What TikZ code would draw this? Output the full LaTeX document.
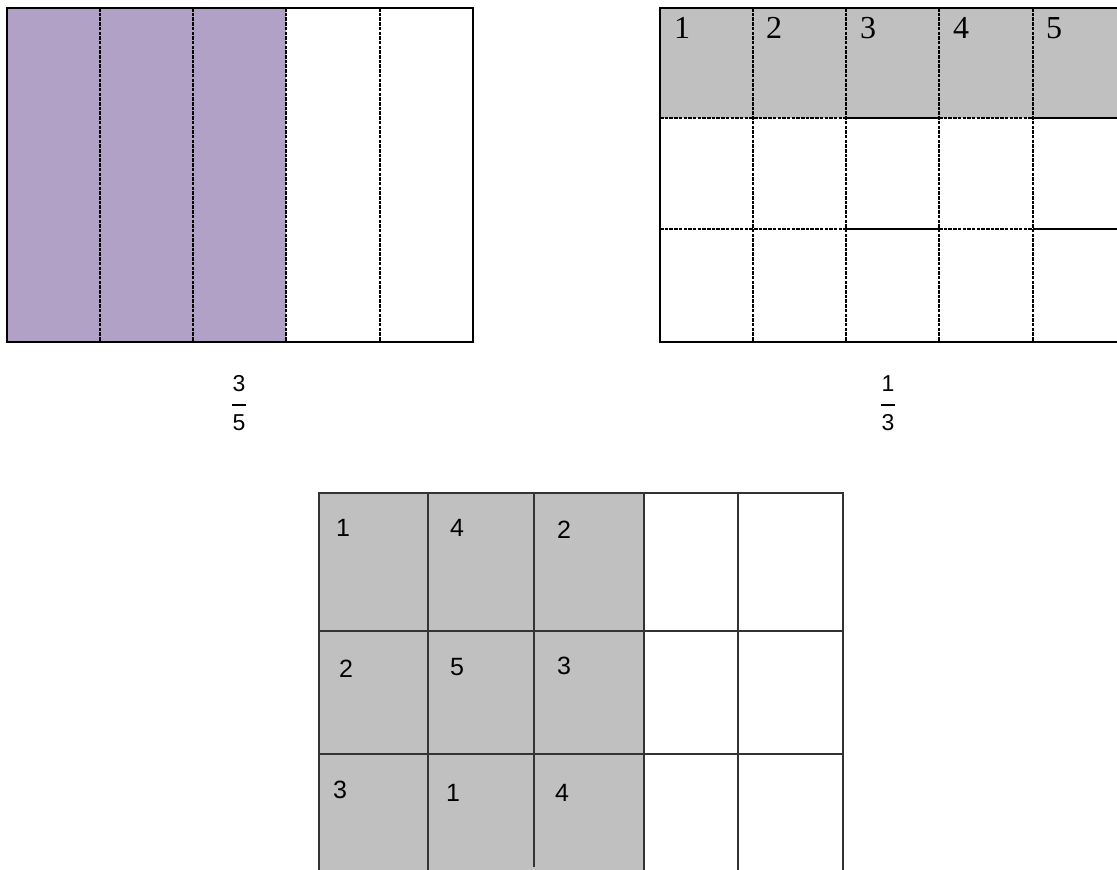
\documentclass[tikz,border=0pt]{standalone}
\usepackage{fontspec}
\setmainfont{Liberation Serif}
\newfontfamily\sansf{Liberation Sans}
\definecolor{purp}{HTML}{B1A1C7}
\definecolor{gry}{HTML}{C0C0C0}
\begin{document}
\begin{tikzpicture}[x=1pt,y=-1pt,
  dsh/.style={line width=1.9pt, dash pattern=on 3.5pt off 1.2pt},
  frame/.style={line width=2pt},
  gridline/.style={line width=1.4pt, draw=black!80},
  serifnum/.style={font=\fontsize{32}{32}\selectfont, inner sep=0pt},
  sansnum/.style={font=\sansf\fontsize{25}{25}\selectfont, inner sep=0pt},
  fracnum/.style={font=\sansf\fontsize{23}{23}\selectfont, inner sep=0pt},
  fracbar/.style={line width=1.5pt}]
\useasboundingbox (0,0) rectangle (1117,870);
% ---- left rectangle: 3/5
\fill[purp] (7,8) rectangle (286,342);
\foreach \x in {100,193,286,380} \draw[dsh] (\x,8) -- (\x,342);
\draw[frame] (7,8) rectangle (473,342);
% fraction 3/5
\node[fracnum] (n35) at (239,384) {3};
\node[fracnum] (d35) at (239,423) {5};
\draw[fracbar] (232,405) -- (246,405);
% ---- right rectangle: 1/3
\fill[gry] (660,8) rectangle (1117,118);
\foreach \x in {753,846,939,1033} \draw[dsh] (\x,8) -- (\x,342);
\foreach \y in {118,229} {
  \draw[dsh] (660,\y) -- (846,\y);
  \draw[frame] (846,\y) -- (939,\y);
  \draw[dsh] (939,\y) -- (1033,\y);
  \draw[frame] (1033,\y) -- (1117,\y);
}
\draw[frame] (1117,8) -- (660,8) -- (660,342) -- (1117,342);
\node[serifnum] (t1) at (682,28) {1};
\node[serifnum] (t2) at (774,28) {2};
\node[serifnum] (t3) at (868,28) {3};
\node[serifnum] (t4) at (961,28) {4};
\node[serifnum] (t5) at (1054,28) {5};
% fraction 1/3
\node[fracnum] (n13) at (888,384) {1};
\node[fracnum] (d13) at (888,423) {3};
\draw[fracbar] (881,405) -- (895,405);
% ---- bottom grid
\fill[gry] (319,493) rectangle (644,870);
\draw[gridline] (319,870) -- (319,493) -- (843,493) -- (843,870);
\foreach \x in {428,644,738} \draw[gridline] (\x,493) -- (\x,870);
\draw[gridline] (534,493) -- (534,867);
\foreach \y in {631,754} \draw[gridline] (319,\y) -- (843,\y);
\node[sansnum] (b11) at (343,528) {1};
\node[sansnum] (b12) at (457,528) {4};
\node[sansnum] (b13) at (564,530) {2};
\node[sansnum] (b21) at (346,669) {2};
\node[sansnum] (b22) at (457,667) {5};
\node[sansnum] (b23) at (564,666) {3};
\node[sansnum] (b31) at (340,790) {3};
\node[sansnum] (b32) at (453,793) {1};
\node[sansnum] (b33) at (562,793) {4};
\end{tikzpicture}
\end{document}
